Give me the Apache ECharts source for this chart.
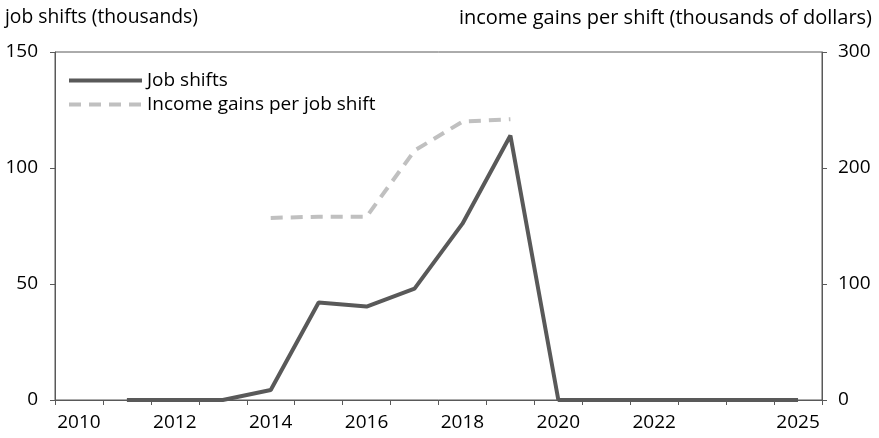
<!DOCTYPE html>
<html>
<head>
<meta charset="utf-8">
<script src="https://cdn.jsdelivr.net/npm/echarts@6/dist/echarts.min.js"></script>
<style>
html,body{margin:0;padding:0;background:#fff;}
#chart{width:879px;height:438px;}
</style>
</head>
<body>
<div id="chart"></div>
<script>
const years = ['2010','2011','2012','2013','2014','2015','2016','2017','2018','2019','2020','2021','2022','2023','2024','2025'];
const shownYearLabels = ['2010','2012','2014','2016','2018','2020','2022','2025'];
const jobShifts = [null, 0, 0, 0, 4.3, 42, 40.3, 48, 76, 114, 0, 0, 0, 0, 0, 0];
const incomeGains = [null, null, null, null, 157, 158, 158, 215, 240, 242, null, null, null, null, null, null];
const leftAxisName = 'job shifts (thousands)';
const rightAxisName = 'income gains per shift (thousands of dollars)';

const FONT = '"Open Sans", "Noto Sans", sans-serif';
const chart = echarts.init(document.getElementById('chart'), null, {renderer: 'canvas'});
chart.setOption({
  animation: false,
  backgroundColor: '#ffffff',
  textStyle: {fontFamily: FONT},
  grid: {left: 55, right: 57, top: 52, bottom: 38, show: true, borderColor: '#595959', borderWidth: 1},
  graphic: [
    {type: 'text', left: 5, top: 8, style: {text: leftAxisName, font: '19.3px ' + FONT, fill: '#000'}},
    {type: 'text', right: 7, top: 8, style: {text: rightAxisName, font: '20px ' + FONT, fill: '#000'}}
  ],
  legend: {
    orient: 'vertical', left: 67, top: 71, padding: 0, itemWidth: 73, itemHeight: 14, itemGap: 5,
    itemStyle: {opacity: 0, borderWidth: 0},
    lineStyle: {width: 4},
    textStyle: {fontSize: 19, color: '#000', fontFamily: FONT},
    data: ['Job shifts', 'Income gains per job shift']
  },
  xAxis: {
    type: 'category', data: years, boundaryGap: true,
    axisLine: {lineStyle: {color: '#595959', width: 1}},
    axisTick: {show: true, interval: 0, length: 5, lineStyle: {color: '#595959'}},
    axisLabel: {
      interval: (i, v) => shownYearLabels.includes(v),
      color: '#000', fontSize: 19, fontFamily: FONT, margin: 13
    },
    splitLine: {show: false}
  },
  yAxis: [
    {type: 'value', min: 0, max: 150, interval: 50, position: 'left',
     axisLine: {show: true, lineStyle: {color: '#595959'}},
     axisTick: {show: true, length: 5, lineStyle: {color: '#595959'}},
     axisLabel: {color: '#000', fontSize: 19, fontFamily: FONT, margin: 17},
     splitLine: {show: false}},
    {type: 'value', min: 0, max: 300, interval: 100, position: 'right',
     axisLine: {show: true, lineStyle: {color: '#595959'}},
     axisTick: {show: true, length: 5, lineStyle: {color: '#595959'}},
     axisLabel: {color: '#000', fontSize: 19, fontFamily: FONT, margin: 16},
     splitLine: {show: false}}
  ],
  series: [
    {name: 'Job shifts', type: 'line', yAxisIndex: 0, data: jobShifts, symbol: 'none',
     lineStyle: {color: '#595959', width: 4}, itemStyle: {color: '#595959'}},
    {name: 'Income gains per job shift', type: 'line', yAxisIndex: 1, data: incomeGains, symbol: 'none',
     lineStyle: {color: '#c0c0c0', width: 4, type: [12, 8]}, itemStyle: {color: '#c0c0c0'}}
  ]
});
</script>
</body>
</html>
